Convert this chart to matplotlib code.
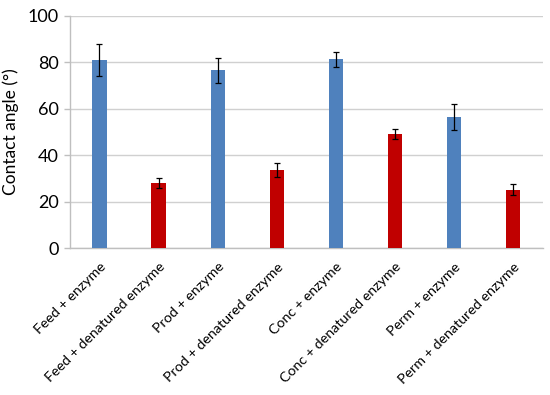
#!/usr/bin/env python3

import numpy as np
import matplotlib as mpl
mpl.use('Agg')
import matplotlib.pyplot as plt

#~~~~~~~~~~~~ Data ~~~~~~~~~~~~~~~~~~~~~~~

labels = ['Feed + enzyme', 'Feed + denatured enzyme',
          'Prod + enzyme', 'Prod + denatured enzyme',
          'Conc + enzyme', 'Conc + denatured enzyme',
          'Perm + enzyme', 'Perm + denatured enzyme']
angle = [81.0, 28.0, 76.5, 33.7, 81.2, 49.0, 56.5, 25.1]
err = [7.0, 2.2, 5.5, 2.9, 3.3, 2.2, 5.5, 2.3]
colors = ['#4f81bd', '#c00000'] * 4

#~~~~~~~~~~~~~~~~~~~~~~~~~~~~~~~~~~~~~~~~~~~

plt.rcParams['font.family'] = ['Lato', 'DejaVu Sans']

fig = plt.figure(figsize=(5.5, 3.95), dpi=100)
ax = fig.add_axes([0.127, 0.372, 0.86, 0.588])

x = np.arange(len(labels))
ax.bar(x, angle, width=0.24, color=colors, zorder=3)
ax.errorbar(x, angle, yerr=err, fmt='none', ecolor='black', elinewidth=0.9,
            capsize=2.5, capthick=0.9, zorder=4)

ax.set_xlim(-0.5, len(labels) - 0.5)
ax.set_ylim(0, 100)
ax.set_yticks(range(0, 101, 20))
ax.yaxis.grid(True, color='#d0d0d0', linewidth=1.0, zorder=0)

ax.set_xticks(x)
ax.set_xticklabels(labels, rotation=45, ha='right', rotation_mode='anchor', fontsize=10.3)
ax.tick_params(axis='x', length=0, pad=9)
ax.tick_params(axis='y', length=4, width=1.0, color='#bfbfbf', labelsize=13, pad=4)

for s in ['top', 'right']:
	ax.spines[s].set_visible(False)
for s in ['left', 'bottom']:
	ax.spines[s].set_color('#bfbfbf')
	ax.spines[s].set_linewidth(1.0)

ax.set_ylabel('Contact angle (°)', fontsize=12.5, labelpad=6)

plt.savefig('out.png', dpi=100)
